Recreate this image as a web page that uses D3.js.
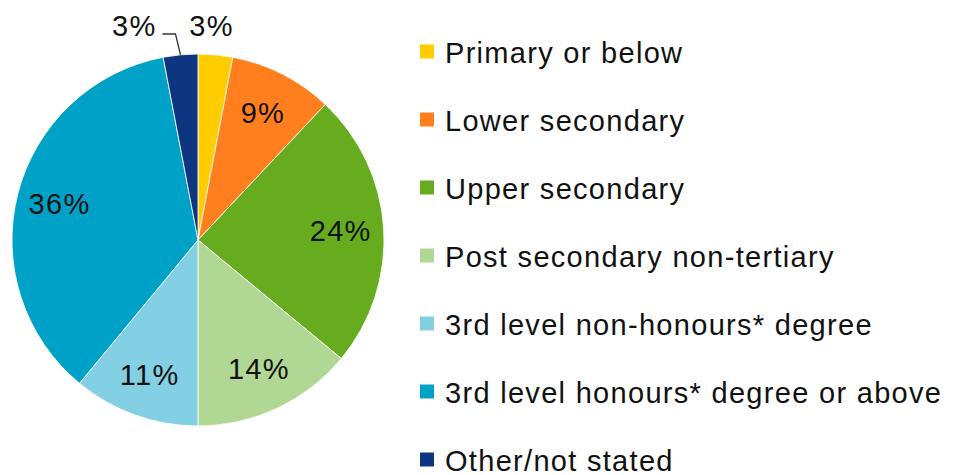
<!DOCTYPE html>
<html><head><meta charset="utf-8">
<script src="https://cdn.jsdelivr.net/npm/d3@7"></script>
<style>
html,body{margin:0;padding:0;background:#fff;}
svg{display:block;}
text{font-family:"Liberation Sans",Arial,sans-serif;fill:#111;}
</style></head>
<body>
<svg id="chart" width="953" height="475"></svg>
<script>
const categories = ["Primary or below","Lower secondary","Upper secondary","Post secondary non-tertiary","3rd level non-honours* degree","3rd level honours* degree or above","Other/not stated"];
const values = [3, 9, 24, 14, 11, 36, 3];
const labels = ["3%","9%","24%","14%","11%","36%","3%"];
const colors = ["#FFCC00","#FF7F1E","#66AC1E","#B1D794","#83D0E4","#00A1C6","#0E3580"];

const svg = d3.select("#chart");
const cx = 198, cy = 240, R = 186;
const FS = 29, LS = 1.3;

const pie = d3.pie().sort(null).value(d => d)(values);
const arc = d3.arc().innerRadius(0).outerRadius(R);
const labelArc = d3.arc().innerRadius(143).outerRadius(143);

const g = svg.append("g").attr("transform", `translate(${cx},${cy})`);
g.selectAll("path.slice").data(pie).enter().append("path")
  .attr("class","slice")
  .attr("d", arc)
  .attr("fill", (d,i) => colors[i])
  .attr("stroke", "#fff").attr("stroke-width", 0.8);

// inside labels
const inside = pie.map((d,i)=>({d,i})).filter(o => values[o.i] >= 5);
g.selectAll("text.in").data(inside).enter().append("text")
  .attr("class","in")
  .attr("x", o => labelArc.centroid(o.d)[0])
  .attr("y", o => labelArc.centroid(o.d)[1] + 10)
  .attr("text-anchor","middle")
  .attr("font-size", FS).attr("letter-spacing", LS)
  .text(o => labels[o.i]);

// outside labels for small slices
const outside = pie.map((d,i)=>({d,i})).filter(o => values[o.i] < 5);
outside.forEach(o => {
  const mid = (o.d.startAngle + o.d.endAngle) / 2;
  const edge = [Math.sin(mid) * R, -Math.cos(mid) * R];
  if (mid < Math.PI) {
    g.append("text")
      .attr("x", edge[0] - 4).attr("y", -R - 18)
      .attr("text-anchor","middle")
      .attr("font-size", FS).attr("letter-spacing", LS)
      .text(labels[o.i]);
  } else {
    const elbow = [edge[0] - 5, -R - 20];
    const endX = elbow[0] - 13;
    g.append("polyline")
      .attr("points", `${edge[0]},${edge[1]} ${elbow[0]},${elbow[1]} ${endX},${elbow[1]}`)
      .attr("fill","none").attr("stroke","#333").attr("stroke-width",1.3);
    g.append("text")
      .attr("x", endX - 6).attr("y", -R - 18)
      .attr("text-anchor","end")
      .attr("font-size", FS).attr("letter-spacing", LS)
      .text(labels[o.i]);
  }
});

// legend
const ly = d3.scaleLinear().domain([0, categories.length - 1]).range([51.5, 459.5]);
const leg = svg.append("g");
categories.forEach((c,i) => {
  leg.append("rect").attr("x", 420).attr("y", ly(i) - 7).attr("width", 14).attr("height", 14).attr("fill", colors[i]);
  leg.append("text").attr("x", 445).attr("y", ly(i) + 11)
    .attr("font-size", FS).attr("letter-spacing", LS)
    .text(c);
});
</script>
</body></html>
